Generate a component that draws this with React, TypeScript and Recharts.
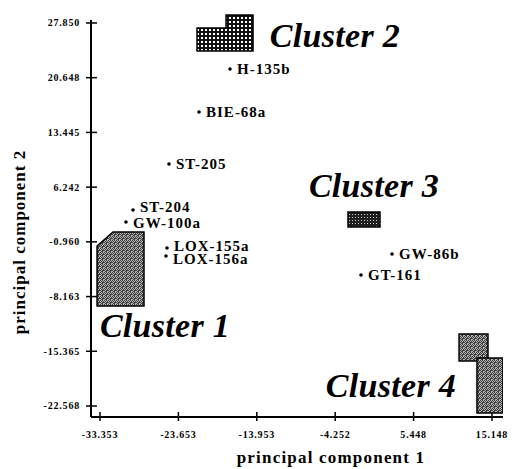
import { ScatterChart, Scatter, XAxis, YAxis, ReferenceLine } from 'recharts'

// tick values printed on the axes
const xTicks = [-33.353, -23.653, -13.953, -4.252, 5.448, 15.148]
const yTicks = [27.85, 20.648, 13.445, 6.242, -0.96, -8.163, -15.365, -22.568]
const xDomain = [-34.467, 16.509]
const yDomain = [-24.016, 28.9]
const yAxisTop = 28.25

// samples (principal component scores)
const samples = ['H-135b', 'BIE-68a', 'ST-205', 'ST-204', 'GW-100a', 'LOX-155a', 'LOX-156a', 'GW-86b', 'GT-161']
const pc1 = [-17.27, -21.1, -24.82, -29.27, -30.14, -25.06, -25.19, 2.78, -1.06]
const pc2 = [21.79, 16.13, 9.29, 3.23, 1.65, -1.77, -2.82, -2.56, -5.32]

// cluster outlines (vertices in PC space)
const cluster1X = [-33.72, -31.74, -27.91, -27.91, -33.72]
const cluster1Y = [-1.51, 0.34, 0.34, -9.4, -9.4]
const cluster2X = [-21.35, -17.76, -17.76, -14.42, -14.42, -21.35]
const cluster2Y = [27.19, 27.19, 28.9, 28.9, 24.16, 24.16]
const cluster3X = [-2.67, 1.29, 1.29, -2.67]
const cluster3Y = [2.97, 2.97, 1.0, 1.0]
const cluster4aX = [11.07, 14.65, 14.65, 11.07]
const cluster4aY = [-13.09, -13.09, -16.64, -16.64]
const cluster4bX = [13.29, 16.5, 16.5, 13.29]
const cluster4bY = [-16.25, -16.25, -23.49, -23.49]

// cluster captions
const clusterNames = ['Cluster 1', 'Cluster 2', 'Cluster 3', 'Cluster 4']
const clusterLabelX = [-25.31, -4.28, 0.55, 2.65]
const clusterLabelY = [-13.48, 24.69, 4.95, -21.38]

const serif = '"Liberation Serif", "Times New Roman", serif'

// labels of close neighbours are pushed apart a little, as in the original
const labelNudge: Record<string, number> = { 'ST-204': -3, 'GW-100a': 0.5, 'LOX-155a': -2.5, 'LOX-156a': 3 }

const sampleData = samples.map((name, i) => ({ name, x: pc1[i], y: pc2[i] }))
const toPts = (xs: number[], ys: number[]) => xs.map((x, i) => ({ x, y: ys[i] }))
const clusterLabelData = clusterNames.map((name, i) => ({ name, x: clusterLabelX[i], y: clusterLabelY[i] }))

const outlines = [
  { key: 'c1', data: toPts(cluster1X, cluster1Y), fill: 'url(#stipple)' },
  { key: 'c2', data: toPts(cluster2X, cluster2Y), fill: 'url(#grid)' },
  { key: 'c3', data: toPts(cluster3X, cluster3Y), fill: 'url(#dark)' },
  { key: 'c4a', data: toPts(cluster4aX, cluster4aY), fill: 'url(#stipple)' },
  { key: 'c4b', data: toPts(cluster4bX, cluster4bY), fill: 'url(#stipple)' },
]

const X_GAP = 14
const Y_GAP = 11

const XTick = (props: any) => {
  const { x, y, payload } = props
  const ay = y - X_GAP
  return (
    <g>
      <line x1={x} x2={x} y1={ay - 5} y2={ay + 4} stroke="#000" strokeWidth={1.5} />
      <text x={x} y={y} dy="0.71em" textAnchor="middle" fontFamily={serif} fontSize={10} fontWeight="bold" letterSpacing={0.8} fill="#000">
        {payload.value.toFixed(3)}
      </text>
    </g>
  )
}

const YTick = (props: any) => {
  const { x, y, payload } = props
  const ax = x + Y_GAP
  return (
    <g>
      <line x1={ax - 5} x2={ax + 6} y1={y} y2={y} stroke="#000" strokeWidth={1.5} />
      <text x={x} y={y} dy="0.35em" textAnchor="end" fontFamily={serif} fontSize={10} fontWeight="bold" letterSpacing={0.8} fill="#000">
        {payload.value.toFixed(3)}
      </text>
    </g>
  )
}

const SampleDot = (props: any) => {
  const { cx, cy, payload } = props
  const nudge = labelNudge[payload.name] || 0
  return (
    <g>
      <circle cx={cx} cy={cy} r={1.8} fill="#000" />
      <text x={cx + 7} y={cy + nudge} dy="0.35em" fontFamily={serif} fontSize={15} fontWeight="bold" letterSpacing={1} fill="#000">
        {payload.name}
      </text>
    </g>
  )
}

const ClusterCaption = (props: any) => {
  const { cx, cy, payload } = props
  return (
    <text x={cx} y={cy} textAnchor="middle" fontFamily={serif} fontSize={34} fontWeight="bold" fontStyle="italic" letterSpacing={0.3} fill="#000">
      {payload.name}
    </text>
  )
}

const XLabel = (props: any) => {
  const vb = props.viewBox
  return (
    <text x={vb.x + vb.width / 2 + 34} y={vb.y + 46} textAnchor="middle" fontFamily={serif} fontSize={17} fontWeight="bold" letterSpacing={1.2} fill="#000">
      principal component 1
    </text>
  )
}

const YLabel = (props: any) => {
  const vb = props.viewBox
  const cx = vb.x + 25
  const cy = vb.y + vb.height / 2 + 26
  return (
    <text x={cx} y={cy} transform={`rotate(-90, ${cx}, ${cy})`} textAnchor="middle" fontFamily={serif} fontSize={17} fontWeight="bold" letterSpacing={1} fill="#000">
      principal component 2
    </text>
  )
}

const noDot = () => <g />

const stippleDark = [
  [0, 0], [2, 0], [1, 1], [3, 1], [0, 2], [3, 2], [1, 3], [2, 3], [2, 2],
]

export default function App() {
  return (
    <div style={{ position: 'absolute', left: 0, top: 0, background: '#fff' }}>
      <ScatterChart width={515} height={469} margin={{ top: 15, right: 12, bottom: 0, left: 0 }}>
        <defs>
          <pattern id="stipple" patternUnits="userSpaceOnUse" width={4} height={4}>
            <rect width={4} height={4} fill="#b8b8b8" />
            {stippleDark.map(([px, py]) => (
              <rect key={`${px}-${py}`} x={px} y={py} width={1} height={1} fill="#3c3c3c" />
            ))}
          </pattern>
          <pattern id="grid" patternUnits="userSpaceOnUse" width={4} height={4}>
            <rect width={4} height={4} fill="#111" />
            <rect x={1} y={1} width={2} height={2} fill="#fff" />
          </pattern>
          <pattern id="dark" patternUnits="userSpaceOnUse" width={3} height={3}>
            <rect width={3} height={3} fill="#1e1e1e" />
            <rect x={1} y={1} width={1} height={1} fill="#cfcfcf" />
          </pattern>
        </defs>
        <XAxis
          type="number"
          dataKey="x"
          domain={xDomain}
          ticks={xTicks}
          interval={0}
          allowDataOverflow
          height={52}
          tickSize={0}
          tickMargin={X_GAP}
          tickLine={false}
          axisLine={{ stroke: '#000', strokeWidth: 2 }}
          tick={<XTick />}
          label={<XLabel />}
        />
        <YAxis
          type="number"
          dataKey="y"
          domain={yDomain}
          ticks={yTicks}
          interval={0}
          width={91}
          tickSize={0}
          tickMargin={Y_GAP}
          tickLine={false}
          axisLine={false}
          tick={<YTick />}
          label={<YLabel />}
        />
        <ReferenceLine
          segment={[{ x: xDomain[0], y: yDomain[0] }, { x: xDomain[0], y: yAxisTop }]}
          stroke="#000"
          strokeWidth={2}
          ifOverflow="visible"
        />
        {outlines.map((o) => (
          <Scatter
            key={o.key}
            data={o.data}
            isAnimationActive={false}
            shape={noDot}
            line={(p: any) => (
              <polygon
                points={p.points.map((pt: any) => `${pt.x},${pt.y}`).join(' ')}
                fill={o.fill}
                stroke="#000"
                strokeWidth={1.5}
              />
            )}
          />
        ))}
        <Scatter data={sampleData} isAnimationActive={false} shape={<SampleDot />} />
        <Scatter data={clusterLabelData} isAnimationActive={false} shape={<ClusterCaption />} />
      </ScatterChart>
    </div>
  )
}
